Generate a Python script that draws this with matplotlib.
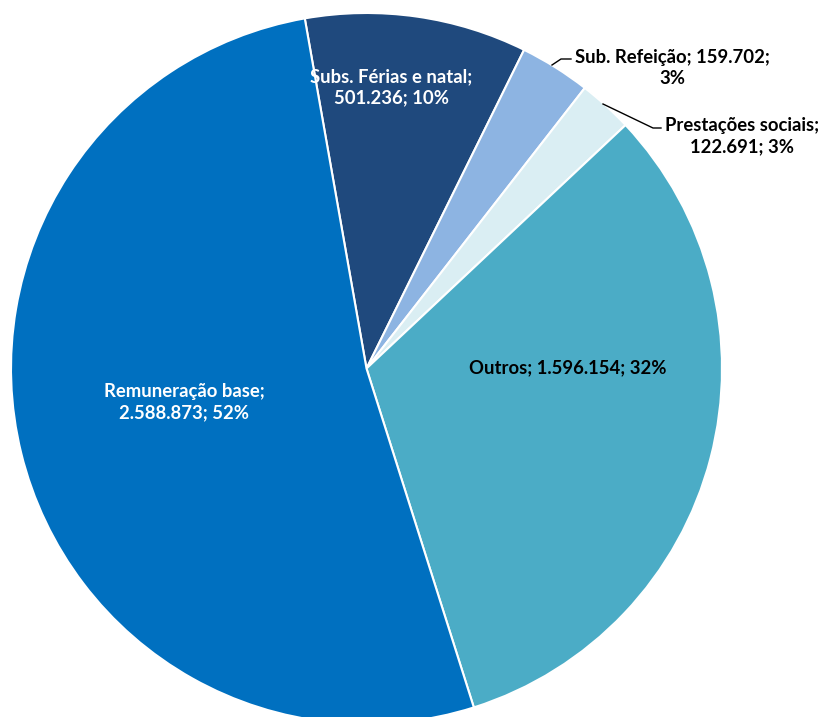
import matplotlib
matplotlib.use("Agg")
import matplotlib.pyplot as plt

# Cost breakdown (values in euros)
categories = ["Subs. Férias e natal", "Sub. Refeição", "Prestações sociais",
              "Outros", "Remuneração base"]
values = [501236, 159702, 122691, 1596154, 2588873]
value_labels = ["501.236", "159.702", "122.691", "1.596.154", "2.588.873"]
pct_labels = ["10%", "3%", "3%", "32%", "52%"]
colors = ["#1F497D", "#8DB4E2", "#DAEEF3", "#4BACC6", "#0070C0"]

plt.rcParams["font.family"] = ["Lato", "DejaVu Sans"]

W, H = 825, 717
fig = plt.figure(figsize=(W / 100, H / 100), dpi=100)
ax = fig.add_axes([0, 0, 1, 1])


def py(y):
    """Convert a top-down pixel row into the axes' bottom-up coordinate."""
    return H - y


cx, cy, r = 366.5, 368.5, 355.5
ax.pie(values, colors=colors, startangle=100, counterclock=False,
       center=(cx, py(cy)), radius=r,
       wedgeprops=dict(edgecolor="white", linewidth=1.5))
ax.set_xlim(0, W)
ax.set_ylim(0, H)
ax.set_aspect("equal")
ax.axis("off")

fs = 13.3
txt = dict(fontsize=fs, fontweight="bold", ha="center", va="center",
           linespacing=1.32)

# Inside labels
ax.text(391, py(87), f"{categories[0]};\n{value_labels[0]}; {pct_labels[0]}",
        color="white", **txt)
ax.text(568, py(368), f"{categories[3]}; {value_labels[3]}; {pct_labels[3]}",
        color="black", **txt)
ax.text(184, py(402), f"{categories[4]};\n{value_labels[4]}; {pct_labels[4]}",
        color="white", **txt)

# Outside labels with leader lines
ax.text(672, py(68), f"{categories[1]}; {value_labels[1]};\n{pct_labels[1]}",
        color="black", **txt)
ax.plot([552, 561, 571], [py(65), py(59), py(59)], color="black", lw=1)

ax.text(742, py(136), f"{categories[2]};\n{value_labels[2]}; {pct_labels[2]}",
        color="black", **txt)
ax.plot([603, 653, 661], [py(104), py(128), py(128)], color="black", lw=1)

fig.savefig("out.png", dpi=100, facecolor="white")
